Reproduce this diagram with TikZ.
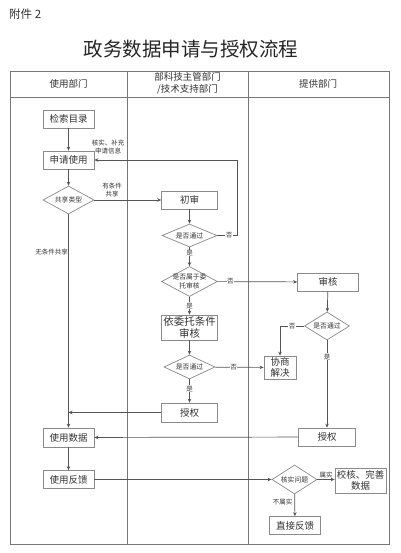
\documentclass[tikz,border=0pt]{standalone}
\usepackage{fontspec}
\setmainfont{Noto Sans CJK SC}
\usetikzlibrary{shapes.geometric,arrows.meta}
\definecolor{boxc}{HTML}{8A8A8A}
\definecolor{linec}{HTML}{555555}
\definecolor{tblc}{HTML}{777777}
\definecolor{txt}{HTML}{333333}
\begin{document}
\begin{tikzpicture}[x=1pt,y=-1pt,
  box/.style={draw=boxc, line width=0.7pt, rectangle, inner sep=0pt, align=center, font=\fontsize{9.5}{11}\selectfont, text=txt, fill=white},
  dia/.style={draw=boxc, line width=0.7pt, diamond, inner sep=0pt, fill=white},
  dtxt/.style={font=\fontsize{6.8}{8.5}\selectfont, text=txt, align=center, inner sep=0pt},
  lbl/.style={font=\fontsize{6.5}{8}\selectfont, text=txt, align=center, inner sep=0.6pt, fill=white},
  nlbl/.style={font=\fontsize{6.5}{8}\selectfont, text=txt, align=center, inner sep=0pt},
  hdr/.style={font=\fontsize{9.5}{12}\selectfont, text=txt, align=center, inner sep=0pt},
  arr/.style={draw=linec, line width=0.7pt, -{Stealth[length=4pt,width=3.5pt]}},
  tbl/.style={draw=tblc, line width=0.9pt},
]
\useasboundingbox (0,0) rectangle (400,553);
\fill[white] (0,0) rectangle (400,553);
% titles
\node[anchor=west, inner sep=0pt, font=\fontsize{11.5}{13}\selectfont, text=txt] (att) at (9,14) {附件 2};
\node[inner sep=0pt, font=\fontsize{19.5}{22}\selectfont, text=black!85] (title) at (191,49) {政务数据申请与授权流程};
% table
\draw[tbl] (10,71) rectangle (389,544);
\draw[tbl] (10,97) -- (389,97);
\draw[tbl] (127,71) -- (127,544);
\draw[tbl] (248,71) -- (248,544);
\node[hdr] (h1) at (68.5,83.5) {使用部门};
\node[hdr] (h2) at (187.5,83.5) {部科技主管部门\\/技术支持部门};
\node[hdr] (h3) at (318,83.5) {提供部门};
% left column
\node[box, minimum width=51, minimum height=18] (n1) at (68.5,119) {检索目录};
\node[box, minimum width=51, minimum height=18] (n2) at (68.5,160) {申请使用};
\node[dia, minimum width=51, minimum height=28, label={[dtxt]center:共享类型}] (d0) at (68.5,200) {};
\node[box, minimum width=51, minimum height=19] (c5) at (68.5,437.5) {使用数据};
\node[box, minimum width=51, minimum height=18] (c6) at (68.5,479.5) {使用反馈};
% middle column
\node[box, minimum width=56, minimum height=18] (c1) at (189.5,200) {初审};
\node[dia, minimum width=55, minimum height=23, label={[dtxt]center:是否通过}] (d1) at (189.5,235.5) {};
\node[dia, minimum width=56, minimum height=30, label={[dtxt]center:是否属于委\\托审核}] (d2) at (189.5,281.5) {};
\node[box, minimum width=56, minimum height=25, font=\fontsize{10.5}{12.5}\selectfont] (c2) at (189.5,327.5) {依委托条件\\审核};
\node[dia, minimum width=51, minimum height=24, label={[dtxt]center:是否通过}] (d3) at (189.5,367) {};
\node[box, minimum width=56, minimum height=19] (c3) at (189.5,412.5) {授权};
% right column
\node[box, minimum width=61, minimum height=18] (r1) at (328,282) {审核};
\node[dia, minimum width=45, minimum height=28, label={[dtxt]center:是否通过}] (d4) at (327,326) {};
\node[box, minimum width=32, minimum height=23] (r2) at (280,367.5) {协商\\解决};
\node[box, minimum width=57, minimum height=18] (r3) at (327,437) {授权};
\node[dia, minimum width=45, minimum height=29, label={[dtxt]center:核实问题}] (d5) at (294.5,479.5) {};
\node[box, minimum width=51, minimum height=25] (r5) at (360.5,480.5) {校核、完善\\数据};
\node[box, minimum width=51, minimum height=18] (r6) at (295,525.5) {直接反馈};
% connectors
\coordinate (k1) at (237,160);
\coordinate (j1) at (68.5,412.5);
\draw[arr] (n1) -- (n2);
\draw[arr] (n2) -- (d0);
\draw[arr] (d0) -- (c1);
\node[nlbl] (l1) at (112,190) {有条件\\共享};
\draw[arr] (d0) -- (c5);
\node[nlbl, anchor=east] (l2) at (68,252) {无条件共享};
\draw[arr] (c1) -- (d1);
\draw[arr] (d1.east) -| node[lbl, pos=0.3] {否} (k1) -- (n2.east);
\node[nlbl] (l3) at (108,147.5) {核实、补充\\申请信息};
\draw[arr] (d1) -- node[lbl, pos=0.3] {是} (d2);
\draw[arr] (d2) -- node[lbl] {是} (c2);
\draw[arr] (d2) -- node[lbl, pos=0.16] {否} (r1);
\draw[arr] (c2) -- (d3);
\draw[arr] (d3) -- node[lbl, pos=0.4] {是} (c3);
\draw[arr] (d3) -- node[lbl, pos=0.38] {否} (r2);
\draw[arr] (r1) -- (d4);
\draw[arr] (d4.west) -| node[lbl, pos=0.25] {否} (r2.north);
\draw[arr] (d4) -- node[lbl, pos=0.19] {是} (r3);
\draw[arr] (c3) -- (j1);
\draw[arr] (r3) -- (c5);
\draw[arr] (c5) -- (c6);
\draw[arr] (c6) -- (d5);
\draw[arr] (d5.east) -- node[nlbl, above=1.5pt] {属实} (r5.west |- d5.east);
\draw[arr] (d5) -- node[nlbl, left=2pt, pos=0.35] {不属实} (r6);
\end{tikzpicture}
\end{document}
